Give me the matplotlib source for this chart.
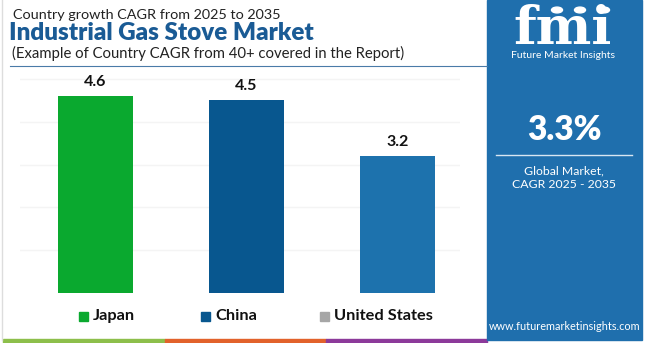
import matplotlib
matplotlib.use("Agg")
import matplotlib.pyplot as plt
from matplotlib.patches import Rectangle, Circle

W, H = 650, 343

countries = ["Japan", "China", "United States"]
cagr = [4.6, 4.5, 3.2]
bar_colors = ["#0aa92f", "#08578f", "#1d72ad"]
legend_colors = ["#0aa92f", "#08578f", "#a6a6a6"]
global_cagr = "3.3%"

plt.rcParams["font.family"] = ["Lato", "DejaVu Sans"]

fig = plt.figure(figsize=(W / 100, H / 100), dpi=100)
fig.patch.set_facecolor("white")


def fx(px):
    return px / W


def fy(py):
    return 1 - py / H


# header texts
fig.text(fx(13), fy(15), "Country growth CAGR from 2025 to 2035", fontsize=10.4,
         color="#222222", va="center", ha="left")
fig.text(fx(9), fy(33), "Industrial Gas Stove Market", fontsize=17.4,
         fontweight="heavy", color="#1a5b95", va="center", ha="left")
fig.text(fx(12), fy(53), "(Example of Country CAGR from 40+ covered in the Report)",
         fontsize=10.7, color="#222222", va="center", ha="left")
fig.add_artist(plt.Line2D([fx(10), fx(487)], [fy(66), fy(66)], color="#4a7ba8", lw=0.8))

# left frame line
fig.add_artist(plt.Line2D([fx(2), fx(2)], [fy(0), fy(340)], color="#dddddd", lw=1))

# bar chart
ax = fig.add_axes([fx(20), fy(293), fx(460) - fx(20), fy(78) - fy(293)])
x = list(range(len(countries)))
ax.bar(x, cagr, width=0.497, color=bar_colors, zorder=2)
for xi, v in zip(x, cagr):
    ax.text(xi, v + 0.33, f"{v}", ha="center", va="center", fontsize=11.5,
            fontweight="bold", color="#111111")
ax.set_xlim(-0.5, 2.414)
ax.set_ylim(0, 5.02)
ax.set_yticks([1, 2, 3, 4, 5])
ax.grid(axis="y", color="#f4f4f4", lw=1, zorder=0)
ax.tick_params(left=False, bottom=False, labelleft=False, labelbottom=False)
for s in ax.spines.values():
    s.set_visible(False)
ax.set_facecolor("none")

# legend
leg_x = [79, 201, 320]
for lx, name, c in zip(leg_x, countries, legend_colors):
    fig.add_artist(Rectangle((fx(lx), fy(321)), fx(9), fy(312) - fy(321), color=c))
    fig.text(fx(lx + 14), fy(316), name, fontsize=11.8, fontweight="bold",
             color="#111111", va="center", ha="left")

# bottom colour strip
for x0, x1, c in [(3, 165, "#8dbf4b"), (165, 326, "#e2622b"), (326, 487, "#8c3a9a")]:
    fig.add_artist(Rectangle((fx(x0), 0), fx(x1 - x0), fy(339), color=c))

# right info panel
panel_c = "#1f6fad"
fig.add_artist(Rectangle((fx(487), fy(340)), fx(642 - 487), fy(0) - fy(340), color=panel_c))

# fmi logo: striped letters with small globes above
fig.text(fx(563), fy(44), "fmi", fontsize=38, fontweight="bold", family="DejaVu Serif",
         color="white", ha="center", va="baseline")
for py in range(16, 46, 3):
    fig.add_artist(plt.Line2D([fx(505), fx(622)], [fy(py), fy(py)], color=panel_c, lw=0.7))
for cx in [557, 580, 604]:
    fig.add_artist(Circle((fx(cx), fy(10)), fx(5.5), color="white",
                          transform=fig.transFigure))
fig.text(fx(563), fy(55.5), "Future Market Insights", fontsize=7.5, color="white",
         ha="center", va="center")

fig.text(fx(564), fy(130), global_cagr, fontsize=24, fontweight="heavy", color="white",
         ha="center", va="center")
fig.add_artist(plt.Line2D([fx(496), fx(632)], [fy(155), fy(155)], color="#d8e6f2", lw=1))
fig.text(fx(564), fy(171), "Global Market,", fontsize=8.8, color="white",
         ha="center", va="center")
fig.text(fx(564), fy(184), "CAGR 2025 - 2035", fontsize=8.8, color="white",
         ha="center", va="center")
fig.text(fx(565), fy(327), "www.futuremarketinsights.com", fontsize=7.8, color="white",
         ha="center", va="center")

fig.savefig("out.png", dpi=100)
